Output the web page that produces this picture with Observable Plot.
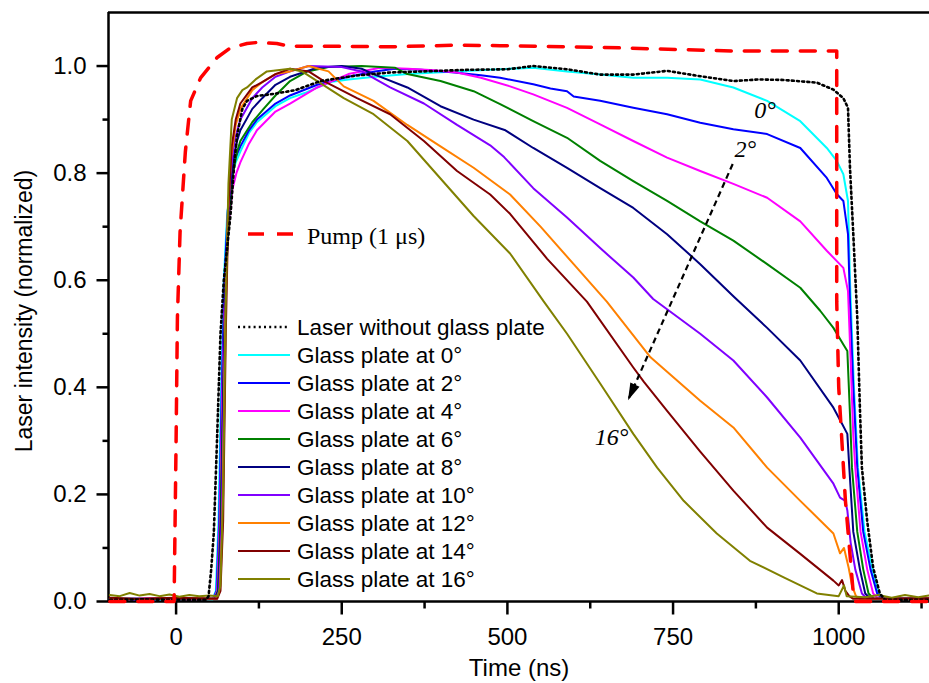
<!DOCTYPE html>
<html><head><meta charset="utf-8">
<script src="https://cdn.jsdelivr.net/npm/d3@7"></script>
<script src="https://cdn.jsdelivr.net/npm/@observablehq/plot@0.6"></script>
<style>
html,body{margin:0;padding:0;background:#fff;overflow:hidden}
</style></head><body><div id="chart"></div>
<script>
// ---------- data (time in ns, normalized intensity) ----------
const legendLabels = ["Laser without glass plate","Glass plate at 0°","Glass plate at 2°","Glass plate at 4°","Glass plate at 6°","Glass plate at 8°","Glass plate at 10°","Glass plate at 12°","Glass plate at 14°","Glass plate at 16°"];
const legendColors = ["#000000","#00FFFF","#0000FF","#FF00FF","#008000","#000080","#8000FF","#FF8000","#800000","#808000"];
const pumpLabel = "Pump (1 μs)";

const laserNoPlate = [[-100,0.003],[-50,0.004],[0,0.003],[45,0.003],[49,0.01],[53,0.06],[57,0.13],[62,0.31],[67,0.5],[72,0.6],[82,0.72],[88,0.82],[92,0.87],[100,0.92],[107,0.935],[122,0.944],[147,0.948],[180,0.955],[218,0.972],[270,0.982],[323,0.988],[373,0.99],[440,0.993],[500,0.994],[539,1.0],[590,0.994],[640,0.984],[690,0.984],[741,0.991],[791,0.981],[841,0.972],[880,0.975],[917,0.974],[967,0.969],[992,0.956],[1007,0.94],[1014,0.922],[1017,0.81],[1022,0.686],[1028,0.53],[1032,0.36],[1035,0.25],[1043,0.15],[1052,0.063],[1062,0.015],[1070,0.003],[1136,0.003]];

const plate0 = [[-100,0.004],[-60,0.006],[-20,0.003],[20,0.005],[55,0.004],[60,0.02],[64,0.15],[68,0.4],[72,0.6],[77,0.72],[83,0.79],[90,0.82],[97,0.84],[110,0.875],[122,0.895],[150,0.925],[172,0.94],[195,0.95],[213,0.96],[233,0.97],[260,0.975],[300,0.98],[350,0.985],[420,0.99],[489,0.994],[539,0.997],[590,0.99],[640,0.984],[690,0.978],[741,0.978],[791,0.975],[841,0.96],[892,0.935],[942,0.897],[982,0.847],[997,0.823],[1007,0.798],[1014,0.748],[1017,0.6],[1023,0.4],[1029,0.25],[1039,0.13],[1051,0.06],[1060,0.015],[1068,0.005],[1100,0.006],[1136,0.004]];

const plate2 = [[-100,0.005],[-50,0.003],[0,0.006],[56,0.005],[61,0.02],[65,0.15],[69,0.4],[73,0.6],[78,0.73],[84,0.8],[90,0.83],[97,0.85],[110,0.88],[122,0.9],[150,0.93],[172,0.945],[213,0.965],[260,0.98],[300,0.99],[330,0.995],[370,0.993],[420,0.988],[460,0.983],[489,0.978],[539,0.966],[565,0.958],[590,0.953],[600,0.943],[640,0.935],[690,0.922],[741,0.91],[791,0.894],[841,0.882],[892,0.873],[942,0.847],[982,0.791],[997,0.761],[1007,0.748],[1014,0.686],[1017,0.56],[1022,0.4],[1028,0.25],[1037,0.13],[1048,0.06],[1058,0.015],[1065,0.005],[1136,0.005]];

const plate4 = [[-100,0.004],[-40,0.006],[20,0.004],[57,0.005],[62,0.02],[66,0.15],[70,0.4],[74,0.58],[79,0.7],[85,0.77],[91,0.8],[97,0.82],[110,0.855],[122,0.88],[150,0.915],[172,0.93],[213,0.96],[260,0.985],[308,0.997],[350,0.995],[390,0.992],[424,0.988],[460,0.978],[504,0.962],[539,0.947],[590,0.922],[640,0.891],[690,0.86],[741,0.829],[791,0.804],[841,0.78],[892,0.754],[942,0.71],[982,0.655],[1007,0.623],[1014,0.58],[1018,0.45],[1022,0.31],[1025,0.25],[1033,0.13],[1043,0.06],[1052,0.015],[1060,0.005],[1136,0.005]];

const plate6 = [[-100,0.005],[-30,0.004],[30,0.006],[58,0.005],[63,0.02],[67,0.15],[71,0.4],[75,0.6],[80,0.72],[86,0.8],[92,0.84],[97,0.86],[115,0.895],[132,0.92],[150,0.945],[172,0.972],[198,0.99],[230,0.998],[280,1.0],[330,0.997],[349,0.985],[399,0.972],[449,0.953],[489,0.929],[539,0.897],[590,0.866],[640,0.823],[690,0.785],[741,0.748],[791,0.71],[841,0.674],[892,0.63],[942,0.586],[972,0.543],[992,0.511],[1007,0.48],[1013,0.468],[1017,0.35],[1020,0.25],[1028,0.13],[1037,0.06],[1045,0.015],[1053,0.005],[1136,0.005]];

const plate8 = [[-100,0.004],[-20,0.005],[40,0.004],[59,0.005],[64,0.02],[68,0.15],[72,0.45],[76,0.65],[81,0.76],[87,0.83],[92,0.86],[97,0.88],[115,0.92],[130,0.94],[150,0.965],[172,0.98],[213,0.997],[250,1.0],[280,0.995],[298,0.985],[349,0.96],[399,0.925],[449,0.9],[497,0.88],[539,0.847],[590,0.81],[640,0.772],[690,0.735],[741,0.686],[791,0.63],[841,0.57],[892,0.511],[942,0.45],[992,0.362],[1005,0.332],[1013,0.313],[1016,0.25],[1022,0.13],[1032,0.06],[1040,0.015],[1048,0.005],[1136,0.005]];

const plate10 = [[-100,0.005],[-10,0.004],[45,0.005],[60,0.005],[65,0.02],[69,0.15],[73,0.45],[77,0.68],[82,0.8],[88,0.86],[97,0.9],[115,0.94],[130,0.96],[150,0.98],[172,0.99],[200,1.0],[250,0.998],[280,0.99],[323,0.96],[374,0.93],[424,0.89],[474,0.852],[495,0.83],[539,0.772],[590,0.717],[640,0.66],[690,0.605],[720,0.565],[791,0.5],[841,0.45],[892,0.381],[942,0.306],[992,0.22],[1002,0.194],[1010,0.188],[1013,0.17],[1018,0.11],[1025,0.06],[1035,0.015],[1043,0.005],[1136,0.005]];

const plate12 = [[-100,0.006],[-70,0.004],[10,0.006],[61,0.005],[66,0.02],[70,0.15],[74,0.5],[78,0.72],[83,0.83],[90,0.89],[97,0.92],[115,0.955],[130,0.97],[150,0.985],[172,0.99],[200,1.0],[230,0.99],[253,0.962],[298,0.935],[349,0.89],[399,0.85],[449,0.81],[504,0.76],[550,0.7],[600,0.63],[650,0.56],[716,0.456],[791,0.375],[841,0.325],[892,0.25],[942,0.188],[992,0.127],[1002,0.09],[1008,0.1],[1015,0.063],[1020,0.03],[1026,0.01],[1032,0.005],[1136,0.005]];

const plate14 = [[-100,0.007],[-60,0.005],[0,0.007],[62,0.005],[67,0.02],[71,0.15],[75,0.5],[79,0.74],[84,0.85],[90,0.9],[97,0.93],[115,0.96],[130,0.97],[150,0.985],[172,0.995],[200,0.99],[223,0.972],[273,0.94],[323,0.91],[374,0.86],[424,0.804],[474,0.76],[504,0.724],[560,0.64],[620,0.56],[690,0.437],[706,0.41],[741,0.356],[791,0.28],[841,0.207],[892,0.138],[942,0.089],[992,0.039],[1000,0.03],[1005,0.04],[1010,0.02],[1016,0.01],[1022,0.005],[1136,0.006]];

const plate16 = [[-100,0.012],[-85,0.01],[-70,0.016],[-55,0.011],[-40,0.014],[-25,0.01],[-10,0.013],[5,0.009],[20,0.012],[35,0.01],[50,0.011],[63,0.01],[67,0.03],[71,0.2],[75,0.55],[79,0.78],[84,0.9],[92,0.94],[100,0.955],[107,0.96],[120,0.975],[137,0.99],[172,0.995],[190,0.99],[213,0.972],[253,0.94],[298,0.91],[349,0.86],[399,0.79],[449,0.72],[504,0.65],[555,0.56],[590,0.5],[640,0.407],[690,0.313],[726,0.25],[766,0.188],[816,0.127],[866,0.076],[917,0.045],[967,0.015],[1000,0.01],[1008,0.03],[1012,0.01],[1040,0.008],[1060,0.012],[1080,0.007],[1100,0.012],[1120,0.008],[1136,0.011]];

const pumpPulse = [[-100,0.0],[-3,0.0],[0,0.3],[2,0.53],[6,0.69],[14,0.84],[22,0.935],[37,0.978],[62,1.016],[82,1.034],[107,1.042],[122,1.044],[152,1.042],[172,1.037],[222,1.037],[323,1.036],[425,1.039],[489,1.038],[640,1.035],[841,1.028],[997,1.028],[997,0.56],[1000,0.4],[1010,0.19],[1022,0.015],[1025,0.0],[1136,0.0]];

const xTicks = [0, 250, 500, 750, 1000];
const xMinorTicks = [125, 375, 625, 875, 1125];
const yTicks = [0.0, 0.2, 0.4, 0.6, 0.8, 1.0];
const yMinorTicks = [0.1, 0.3, 0.5, 0.7, 0.9];

const angleLabels = ["0°", "2°", "16°"];
const angleLabelTime = [889, 859, 657];
const angleLabelValue = [0.918, 0.845, 0.306];
const arrowStart = [840, 0.817];
const arrowEnd = [682, 0.376];

// ---------- build tables ----------
const xMin = -102, xMax = 1137;
const plates = [plate0, plate2, plate4, plate6, plate8, plate10, plate12, plate14, plate16];
const plateRows = plates.flatMap((arr, i) => arr.map(([t, v]) => ({t, v, s: legendLabels[i + 1]})));
const noPlateRows = laserNoPlate.map(([t, v]) => ({t, v}));
const pumpRows = pumpPulse.map(([t, v]) => ({t, v}));
const labelRows = angleLabels.map((l, i) => ({l, t: angleLabelTime[i], v: angleLabelValue[i]}));
const arrowRows = [{t1: arrowStart[0], v1: arrowStart[1], t2: arrowEnd[0], v2: arrowEnd[1]}];

const headSymbol = {draw(ctx) { ctx.moveTo(0, 0); ctx.lineTo(-5, 17); ctx.lineTo(5, 17); ctx.closePath(); }};
const tickSym = (dx, dy) => ({draw(ctx) { ctx.moveTo(0, 0); ctx.lineTo(dx, dy); }});

const sans = "Liberation Sans, Arial, Helvetica, sans-serif";
const serif = "Liberation Serif, Times New Roman, serif";
const tickStyle = {stroke: "black", strokeWidth: 2.5, fill: "none", r: 5};

const chart = Plot.plot({
  width: 929, height: 683,
  marginLeft: 108, marginRight: 0, marginTop: 12, marginBottom: 82,
  x: {domain: [xMin, xMax]},
  y: {domain: [0, 1.1]},
  color: {domain: legendLabels.slice(1), range: legendColors.slice(1)},
  style: {fontFamily: sans, fontSize: "24px", color: "black", background: "white"},
  marks: [
    Plot.ruleY([0], {strokeWidth: 2.5}),
    Plot.ruleY([1.1], {strokeWidth: 2.5}),
    Plot.ruleX([xMin], {strokeWidth: 2.5}),
    Plot.axisX(xTicks, {tickSize: 0, tickPadding: 26, fontSize: 24, label: null, tickFormat: d => String(d)}),
    Plot.axisY(yTicks, {tickSize: 0, tickPadding: 22, fontSize: 24, label: null, tickFormat: d3.format(".1f")}),
    Plot.dot(xTicks, {x: d => d, y: () => 0, symbol: tickSym(0, 13), ...tickStyle}),
    Plot.dot(xMinorTicks, {x: d => d, y: () => 0, symbol: tickSym(0, 7), ...tickStyle}),
    Plot.dot(yTicks, {x: () => xMin, y: d => d, symbol: tickSym(-12, 0), ...tickStyle}),
    Plot.dot(yMinorTicks, {x: () => xMin, y: d => d, symbol: tickSym(-6, 0), ...tickStyle}),
    Plot.text(["Time (ns)"], {frameAnchor: "bottom", lineAnchor: "middle", dy: 67, fontSize: 24, fontFamily: sans}),
    Plot.text(["Laser intensity (normalized)"], {frameAnchor: "left", textAnchor: "middle", lineAnchor: "middle", dx: -84, dy: 4, rotate: -90, fontSize: 23, fontFamily: sans}),
    Plot.line(plateRows, {x: "t", y: "v", z: "s", stroke: "s", strokeWidth: 2}),
    Plot.line(noPlateRows, {x: "t", y: "v", stroke: "black", strokeWidth: 2.6, strokeDasharray: "2,3.2"}),
    Plot.line(pumpRows, {x: "t", y: "v", stroke: "#FF0000", strokeWidth: 3.5, strokeDasharray: "15,13"}),
    Plot.link(arrowRows, {x1: "t1", y1: "v1", x2: "t2", y2: "v2", stroke: "black", strokeWidth: 2.2, strokeDasharray: "6,4"}),
    Plot.dot([arrowEnd], {x: d => d[0], y: d => d[1], symbol: headSymbol, fill: "black", stroke: "none", rotate: 204}),
    Plot.text(labelRows, {x: "t", y: "v", text: "l", fontFamily: serif, fontStyle: "italic", fontSize: 24})
  ]
});

// ---------- in-plot legend ----------
const g = d3.select(chart).append("g").attr("text-anchor", "start");
legendLabels.forEach((lab, i) => {
  const y = 327 + 28 * i;
  const ln = g.append("line").attr("x1", 238).attr("x2", 290).attr("y1", y).attr("y2", y)
    .attr("stroke", legendColors[i]).attr("stroke-width", i === 0 ? 2.6 : 2.2);
  if (i === 0) ln.attr("stroke-dasharray", "2,3.2");
  g.append("text").attr("x", 297).attr("y", y).attr("dy", "0.35em").attr("text-anchor", "start")
    .attr("font-family", sans).attr("font-size", 22.5).attr("fill", "black").text(lab);
});
g.append("line").attr("x1", 248).attr("x2", 295).attr("y1", 234).attr("y2", 234)
  .attr("stroke", "#FF0000").attr("stroke-width", 3.5).attr("stroke-dasharray", "16,13");
g.append("text").attr("x", 307).attr("y", 236).attr("dy", "0.35em").attr("text-anchor", "start")
  .attr("font-family", serif).attr("font-size", 24).attr("fill", "black").text(pumpLabel);

document.getElementById("chart").appendChild(chart);
</script></body></html>
